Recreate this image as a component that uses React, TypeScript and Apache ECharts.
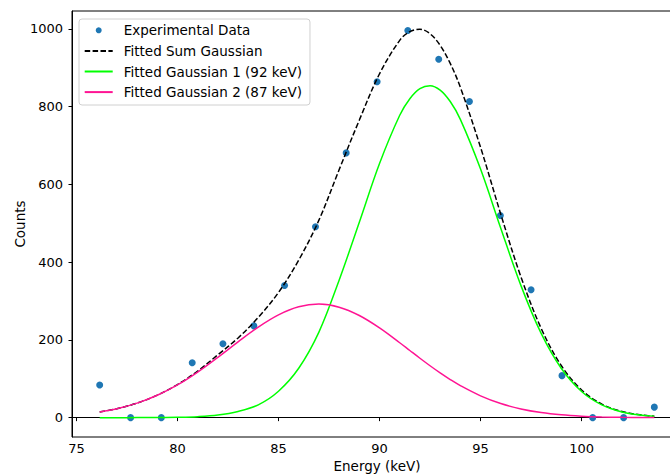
import React, { useEffect, useRef } from "react";
import * as echarts from "echarts";

// Experimental points
const energyPoints = [76.15, 77.68, 79.2, 80.73, 82.25, 83.78, 85.3, 86.83, 88.35, 89.88, 91.4, 92.93, 94.45, 95.98, 97.5, 99.03, 100.55, 102.08, 103.6];
const counts = [84, 0, 0, 141, 190, 236, 340, 491, 681, 864, 996, 922, 813, 520, 329, 108, 0, 0, 27];

// Fitted curves
const fitEnergy = [76.15, 77, 78, 79, 80, 81, 82, 83, 84, 85, 86, 87, 88, 89, 90, 91, 91.5, 92, 92.5, 93, 93.5, 94, 95, 96, 97, 98, 99, 100, 101, 102, 103, 103.6];
const fitSum = [14.6, 22.9, 37.4, 57.8, 85.1, 119.8, 161.8, 205, 258, 322, 405, 508, 637.7, 765.4, 884.5, 970.4, 993.1, 999.1, 987.5, 957.7, 911.1, 849.7, 695.4, 523.4, 361.9, 229.6, 133.5, 71.2, 34.8, 15.6, 6.4, 3.65];
const fitG1 = [0, 0, 0.1, 0.3, 0.9, 2.5, 6.6, 16, 33, 68, 127, 220, 353.5, 502.6, 653.6, 777.7, 820.4, 846.3, 854, 842.6, 813.1, 767.3, 639.3, 487.2, 339.6, 216.6, 126.3, 67.4, 32.9, 14.7, 6.0, 3.4];
const fitG2 = [14.6, 22.9, 37.3, 57.5, 84.2, 117.3, 155.2, 195.1, 233.0, 264.4, 285.1, 292.0, 284.2, 262.8, 230.9, 192.7, 172.7, 152.8, 133.5, 115.1, 98.0, 82.4, 56.1, 36.2, 22.3, 13.0, 7.2, 3.8, 1.9, 0.9, 0.4, 0.25];

const xTicks = [75, 80, 85, 90, 95, 100];
const yTicks = [0, 200, 400, 600, 800, 1000];

const seriesNames = ["Experimental Data", "Fitted Sum Gaussian", "Fitted Gaussian 1 (92 keV)", "Fitted Gaussian 2 (87 keV)"];

const FONT = "'DejaVu Sans', sans-serif";

const pairs = (xs: number[], ys: number[]) => xs.map((x, i) => [x, ys[i]]);

export default function App() {
  const ref = useRef<HTMLDivElement>(null);
  useEffect(() => {
    if (!ref.current) return;
    const chart = echarts.init(ref.current, undefined, { renderer: "svg" });
    const lineSeries = (name: string, ys: number[], color: string, type: any) => ({
      name,
      type: "line",
      symbol: "none",
      smooth: 0.35,
      lineStyle: { color, width: 1.5, type },
      itemStyle: { color },
      data: pairs(fitEnergy, ys),
    });
    chart.setOption({
      animation: false,
      backgroundColor: "#fff",
      textStyle: { fontFamily: FONT },
      grid: {
        left: 72,
        top: 11,
        right: 18,
        bottom: 38,
        show: true,
        borderColor: "#000",
        borderWidth: 1,
        backgroundColor: "transparent",
        containLabel: false,
        outerBoundsMode: "none",
      },
      legend: {
        orient: "vertical",
        left: 79,
        top: 19,
        padding: [4.3, 8, 5.9, 4.7],
        itemWidth: 28,
        itemHeight: 6,
        itemGap: 6.6,
        backgroundColor: "rgba(255,255,255,0.8)",
        borderColor: "#d0d0d0",
        borderWidth: 1,
        borderRadius: 3,
        textStyle: {
          fontFamily: FONT,
          fontSize: 13.5,
          color: "#000",
          lineHeight: 14,
          padding: [0, 0, 0, 6],
        },
        data: [
          { name: seriesNames[0] },
          { name: seriesNames[1], itemStyle: { opacity: 0 } },
          { name: seriesNames[2], itemStyle: { opacity: 0 } },
          { name: seriesNames[3], itemStyle: { opacity: 0 } },
        ],
      },
      xAxis: {
        type: "value",
        min: 74.78,
        max: 104.97,
        name: "Energy (keV)",
        nameLocation: "middle",
        nameGap: 22,
        nameMoveOverlap: false,
        nameTextStyle: { fontFamily: FONT, fontSize: 13.5, color: "#000" },
        axisLine: { show: true, lineStyle: { color: "#000", width: 1 } },
        axisTick: { show: true, length: 3.5, lineStyle: { color: "#000" }, customValues: xTicks },
        axisLabel: { fontFamily: FONT, fontSize: 13, color: "#000", margin: 5, customValues: xTicks, formatter: (v: number) => String(v) },
        splitLine: { show: false },
      },
      yAxis: {
        type: "value",
        min: -49.8,
        max: 1046,
        name: "Counts",
        nameLocation: "middle",
        nameGap: 45,
        nameMoveOverlap: false,
        nameTextStyle: { fontFamily: FONT, fontSize: 13.5, color: "#000" },
        axisLine: { show: true, lineStyle: { color: "#000", width: 1 } },
        axisTick: { show: true, length: 3.5, lineStyle: { color: "#000" }, customValues: yTicks },
        axisLabel: { fontFamily: FONT, fontSize: 13, color: "#000", margin: 9, customValues: yTicks, formatter: (v: number) => String(v) },
        splitLine: { show: false },
      },
      series: [
        {
          name: seriesNames[0],
          type: "scatter",
          symbol: "circle",
          symbolSize: 7,
          itemStyle: { color: "#1f77b4", opacity: 1 },
          data: pairs(energyPoints, counts),
        },
        lineSeries(seriesNames[1], fitSum, "#000", [5.5, 2.4]),
        lineSeries(seriesNames[2], fitG1, "#00ff00", "solid"),
        lineSeries(seriesNames[3], fitG2, "#ff1493", "solid"),
      ],
    });
    return () => chart.dispose();
  }, []);
  return (
    <div style={{ position: "fixed", left: 0, top: 0, width: 670, height: 475, overflow: "hidden", background: "#fff" }}>
      <div ref={ref} style={{ width: 700, height: 475 }} />
    </div>
  );
}
